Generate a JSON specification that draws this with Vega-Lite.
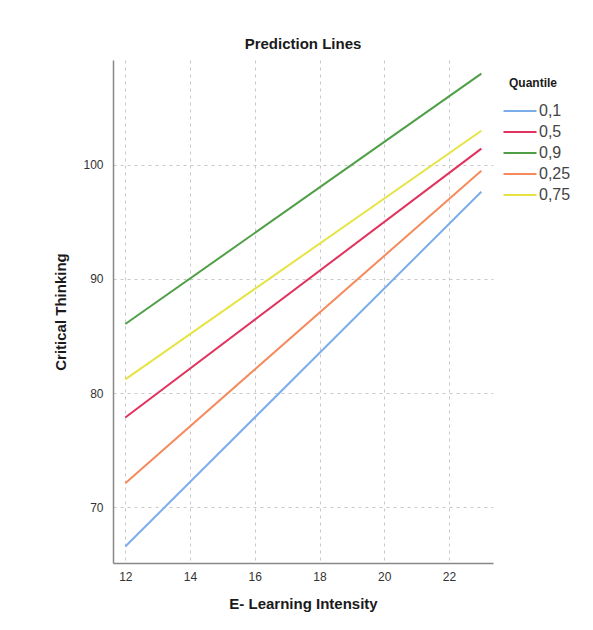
{
  "$schema": "https://vega.github.io/schema/vega-lite/v6.json",
  "autosize": {"type": "none"},
  "padding": {"left": 113, "top": 60, "right": 100, "bottom": 67},
  "width": 380,
  "height": 503,
  "background": "white",
  "title": {"text": "Prediction Lines", "font": "Liberation Sans", "fontSize": 15, "fontWeight": "bold", "color": "#1a1a1a", "offset": 8, "anchor": "middle"},
  "data": {"values": [
    {"x": 12, "y": 66.55, "q": "0,1"}, {"x": 23, "y": 97.65, "q": "0,1"},
    {"x": 12, "y": 77.86, "q": "0,5"}, {"x": 23, "y": 101.43, "q": "0,5"},
    {"x": 12, "y": 86.05, "q": "0,9"}, {"x": 23, "y": 108.0, "q": "0,9"},
    {"x": 12, "y": 72.1, "q": "0,25"}, {"x": 23, "y": 99.5, "q": "0,25"},
    {"x": 12, "y": 81.2, "q": "0,75"}, {"x": 23, "y": 103.0, "q": "0,75"}
  ]},
  "mark": {"type": "line", "strokeWidth": 2, "clip": true},
  "encoding": {
    "x": {"field": "x", "type": "quantitative", "scale": {"domain": [11.62, 23.36], "nice": false, "zero": false},
      "axis": {"values": [12, 14, 16, 18, 20, 22], "title": "E- Learning Intensity", "ticks": false, "labelPadding": 8, "titlePadding": 14}},
    "y": {"field": "y", "type": "quantitative", "scale": {"domain": [65.1, 109.2], "nice": false, "zero": false},
      "axis": {"values": [70, 80, 90, 100], "title": "Critical Thinking", "ticks": false, "labelPadding": 10, "titlePadding": 14}},
    "color": {"field": "q", "type": "nominal", "title": "Quantile",
      "scale": {"domain": ["0,1", "0,5", "0,9", "0,25", "0,75"], "range": ["#7badea", "#e0325c", "#4f9f47", "#f58a5c", "#e6e444"]},
      "legend": {"orient": "none", "legendX": 396, "legendY": 18, "symbolType": "M-1.65,0H1.65", "symbolSize": 400, "symbolStrokeWidth": 2, "labelFontSize": 16, "labelColor": "#444", "labelFont": "Liberation Sans", "titleFont": "Liberation Sans", "titleFontSize": 12, "titleFontWeight": "bold", "titleColor": "#1a1a1a", "rowPadding": 2, "labelOffset": 8, "titlePadding": 10}}
  },
  "config": {
    "view": {"stroke": null},
    "axis": {"labelFont": "Liberation Sans", "labelFontSize": 12, "labelColor": "#333", "titleFont": "Liberation Sans", "titleFontSize": 15, "titleFontWeight": "bold", "titleColor": "#1a1a1a", "domainColor": "#888", "domainWidth": 1.5, "grid": true, "gridColor": "#c8c8c8", "gridDash": [3, 4], "gridWidth": 1}
  }
}
